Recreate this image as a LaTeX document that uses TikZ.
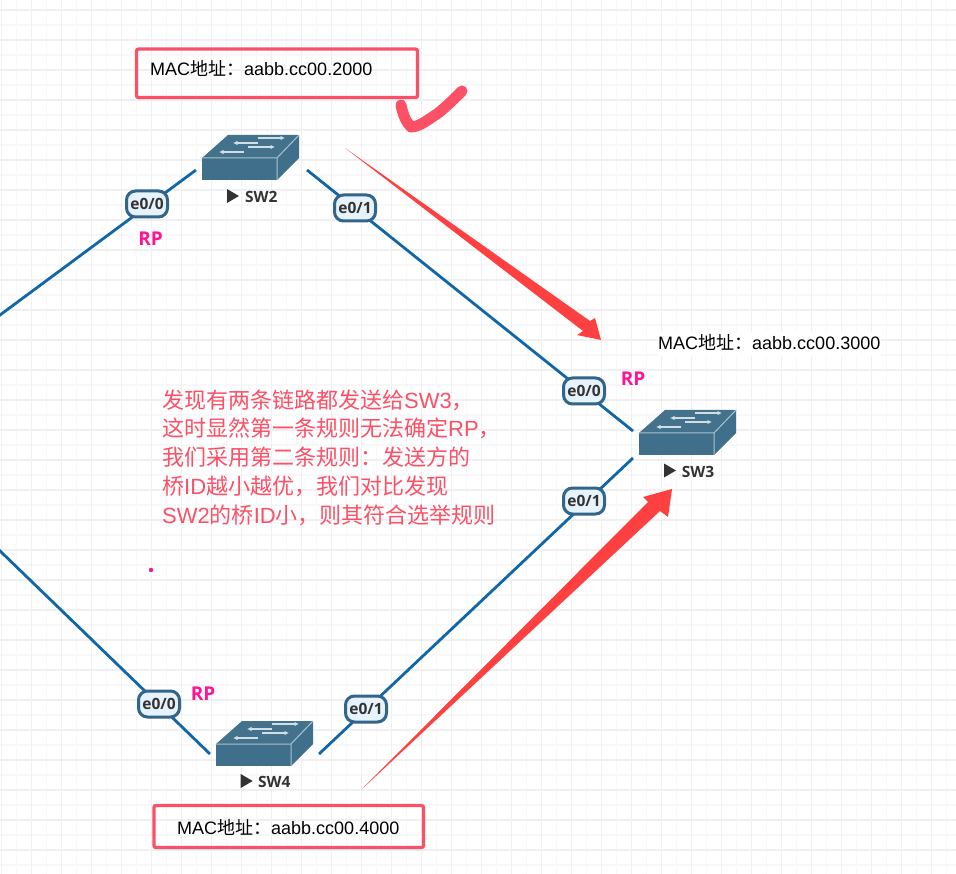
\documentclass[tikz,border=0pt]{standalone}
\usepackage{fontspec}
\setmainfont{Liberation Sans}
\newfontfamily\labfont{Open Sans}
\newfontfamily\cjkfont{Noto Sans CJK SC}
\newcommand{\zh}[1]{{\cjkfont #1}}
\usetikzlibrary{arrows.meta}
\definecolor{gridmin}{HTML}{F8F8F9}
\definecolor{gridmaj}{HTML}{F0F0F2}
\definecolor{linkblue}{HTML}{0F66A8}
\definecolor{portedge}{HTML}{33658A}
\definecolor{portfill}{HTML}{E6F2FC}
\definecolor{swfront}{HTML}{3F6F8A}
\definecolor{swtop}{HTML}{44728C}
\definecolor{swedge}{HTML}{A9C3CF}
\definecolor{notered}{HTML}{FC5067}
\definecolor{arrowred}{HTML}{FF4040}
\definecolor{rppink}{HTML}{FF1493}
\definecolor{inktext}{HTML}{333333}
\tikzset{
  x=1pt,y=-1pt,
  swanchor/.style={inner sep=0,outer sep=0,minimum height=1pt},
  swname/.style={font=\labfont\bfseries\fontsize{15.5}{17}\selectfont,text=inktext,inner sep=0},
  port/.style={draw=portedge,line width=3pt,fill=portfill,rounded corners=9pt,inner sep=0,
    minimum width=41pt,minimum height=26pt,font=\labfont\bfseries\fontsize{15.5}{17}\selectfont,text=inktext},
  rplabel/.style={font=\labfont\bfseries\fontsize{19}{21}\selectfont,text=rppink,inner sep=0},
  link/.style={draw=linkblue,line width=2.8pt},
  macbox/.style={draw=notered,line width=3.3pt,rounded corners=2pt,fill=none,inner sep=0},
  mactext/.style={font=\fontsize{18}{22}\selectfont,text=black,inner sep=0,anchor=west},
  iconarrow/.style={draw=swedge!55!white,line width=1.5pt,-{Latex[length=4.5pt,width=4.5pt]}},
  switchicon/.pic={
    \fill[swfront] (0,0) rectangle (75,22);
    \fill[swtop] (0,0) -- (26,-23) -- (97,-23) -- (75,0) -- cycle;
    \fill[swfront] (75,0) -- (97,-23) -- (97,0) -- (75,22) -- cycle;
    \draw[swedge,line width=1pt] (0,0) -- (75,0) -- (97,-23) (75,0) -- (75,22);
    \draw[iconarrow] (56,-20) -- (83,-20);
    \draw[iconarrow] (56,-15) -- (31,-15);
    \draw[iconarrow] (46,-11) -- (73,-11);
    \draw[iconarrow] (42,-6) -- (17,-6);
  },
  playmark/.pic={\fill[inktext] (0,-7) -- (12,0) -- (0,7) -- cycle;}
}
\begin{document}
\begin{tikzpicture}
\useasboundingbox (0,0) rectangle (956,874);
\fill[white] (0,0) rectangle (956,874);
% grid
\foreach \gx in {16,46,...,946} \draw[gridmin,line width=1.2pt] (\gx+.5,0) -- (\gx+.5,874);
\foreach \gy in {25,55,...,870} \draw[gridmin,line width=1.2pt] (0,\gy) -- (956,\gy);
\foreach \gx in {1,31,...,955} \draw[gridmaj,line width=1.8pt] (\gx+.5,0) -- (\gx+.5,874);
\foreach \gy in {10,40,...,870} \draw[gridmaj,line width=1.8pt] (0,\gy) -- (956,\gy);

% switch anchors (the gap the links leave round each icon)
\node[swanchor,minimum width=111pt] (sw2) at (251.5,170) {};
\node[swanchor,minimum width=84pt,minimum height=27pt] (sw3) at (675,444.5) {};
\node[swanchor,minimum width=109pt] (sw4) at (264.5,754) {};
\coordinate (off1) at (-2,316.5);
\coordinate (off2) at (-2,549);

% links
\draw[link] (off1) -- (sw2.west);
\draw[link] (sw2.east) -- (sw3.north west);
\draw[link] (sw3.south west) -- (sw4.east);
\draw[link] (off2) -- (sw4.west);

% icons
\pic at (202,158) {switchicon};
\pic at (639,433) {switchicon};
\pic at (216,744) {switchicon};
\pic at (227,196) {playmark};
\pic at (664,470.5) {playmark};
\pic at (240.7,781) {playmark};
\node[swname,anchor=west] (sw2name) at (245,196.5) {SW2};
\node[swname,anchor=west] (sw3name) at (681.7,471.5) {SW3};
\node[swname,anchor=west] (sw4name) at (258,781.5) {SW4};

% ports
\node[port] (p2a) at (147,204) {e0/0};
\node[port] (p2b) at (355,208) {e0/1};
\node[port] (p3a) at (584,391) {e0/0};
\node[port] (p3b) at (584,501) {e0/1};
\node[port] (p4a) at (159,704) {e0/0};
\node[port] (p4b) at (366,709) {e0/1};

% RP
\node[rplabel] (rp2) at (150.5,239) {RP};
\node[rplabel] (rp3) at (633,379) {RP};
\node[rplabel] (rp4) at (203,694) {RP};

% red arrows
\coordinate (a1s) at (345,148);
\coordinate (a1t) at (601,340);
\fill[arrowred] (a1s) -- (590,321) -- (595,318) -- (a1t) -- (577,335) -- (583,331) -- cycle;
\coordinate (a2s) at (361,790);
\coordinate (a2t) at (672,489);
\fill[arrowred] (a2s) -- (648,502) -- (643,497) -- (a2t) -- (668,517) -- (660,511) -- cycle;

% check mark
\draw[notered,line width=11pt,line cap=round,line join=round]
  (401,105) .. controls (403,115) and (406,122) .. (411,127)
  .. controls (420,127) and (430,118) .. (437,114)
  .. controls (446,107) and (454,99) .. (462,91);

% MAC boxes
\node[macbox,minimum width=281pt,minimum height=48.5pt] (box2) at (277,73.3) {};
\node[mactext] (mac2) at (150,68.5) {MAC\zh{地址：}aabb.cc00.2000};
\node[macbox,minimum width=269.5pt,minimum height=42pt] (box4) at (288.7,826.5) {};
\node[mactext] (mac4) at (177,827.5) {MAC\zh{地址：}aabb.cc00.4000};
\fill[white] (658,332) rectangle (881,356);
\node[mactext] (mac3) at (658,342.5) {MAC\zh{地址：}aabb.cc00.3000};

% note
\node[anchor=north west,inner sep=0,align=left,text=notered,
  font=\fontsize{22}{28.7}\selectfont] (note) at (162,389.5)
  {\zh{发现有两条链路都发送给}SW3\zh{，}\\\zh{这时显然第一条规则无法确定}RP\zh{，}\\\zh{我们采用第二条规则：发送方的}\\\zh{桥}ID\zh{越小越优，我们对比发现}\\SW2\zh{的桥}ID\zh{小，则其符合选举规则}};

% stray dot
\fill[rppink] (151,570) circle (2.2);
\end{tikzpicture}
\end{document}
